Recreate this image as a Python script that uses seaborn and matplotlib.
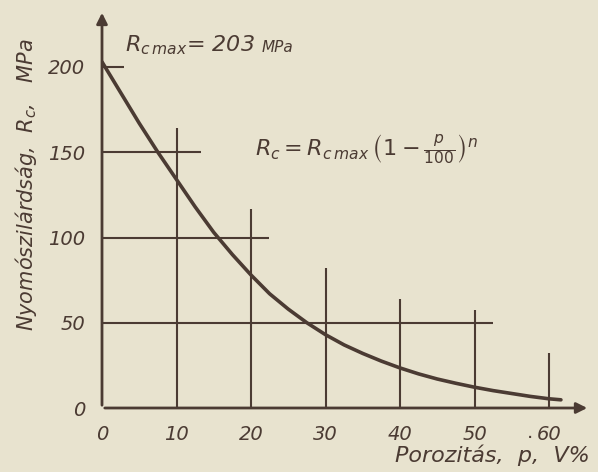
import numpy as np
import pandas as pd
import matplotlib
matplotlib.use("Agg")
import matplotlib.pyplot as plt
import seaborn as sns

# ---- data ----
porosity = [0, 2.5, 5, 7.5, 10, 12.5, 15, 17.5, 20, 22.5, 25, 27.5, 30, 32.5, 35,
            37.5, 40, 42.5, 45, 47.5, 50, 52.5, 55, 57.5, 60, 61.6]
strength = [203, 185, 167, 150, 134, 118, 103, 90, 78, 67, 58, 50, 43, 37, 32,
            27.5, 23.5, 20, 17, 14.5, 12.2, 10.2, 8.5, 6.8, 5.4, 4.8]
x_ticks = [0, 10, 20, 30, 40, 50, 60]
y_ticks = [0, 50, 100, 150, 200]
# hand-drawn partial grid lines: (position, extent)
vgrid_x = [10, 20, 30, 40, 50, 60]
vgrid_top = [164, 117, 82, 64, 57.5, 32]
hgrid_y = [50, 100, 150, 200]
hgrid_right = [52.5, 22.4, 13.3, 3]

PAPER = "#e8e3cf"
INK = "#4b3b33"

sns.set_theme(style="white")
plt.rcParams["font.family"] = ["DejaVu Sans"]
plt.rcParams["mathtext.fontset"] = "dejavusans"

fig = plt.figure(figsize=(5.98, 4.72), dpi=100, facecolor=PAPER)
ax = fig.add_axes([102/598, (472-408)/472, (590-102)/598, 398/472])
ax.set_facecolor(PAPER)
ax.set_xlim(0, (590-102)/7.45)
ax.set_ylim(0, 398/1.705)

df = pd.DataFrame({"p": porosity, "Rc": strength})

# grid segments
ax.vlines(vgrid_x, 0, vgrid_top, colors=INK, lw=1.5, zorder=1)
ax.hlines(hgrid_y, 0, hgrid_right, colors=INK, lw=1.5, zorder=1)

sns.lineplot(data=df, x="p", y="Rc", ax=ax, color=INK, lw=2.6, zorder=3)

for s in ax.spines.values():
    s.set_visible(False)
xmax = ax.get_xlim()[1]
ymax = ax.get_ylim()[1]
ax.annotate("", xy=(xmax, 0), xytext=(0, 0), annotation_clip=False,
            arrowprops=dict(arrowstyle="-|>", color=INK, lw=2.0, mutation_scale=16))
ax.annotate("", xy=(0, ymax), xytext=(0, 0), annotation_clip=False,
            arrowprops=dict(arrowstyle="-|>", color=INK, lw=2.0, mutation_scale=16))

ax.set_xticks(x_ticks)
ax.set_yticks(y_ticks)
ax.set_xticklabels([str(t) for t in x_ticks], fontsize=14, style="italic", color=INK)
ax.set_yticklabels([str(t) for t in y_ticks], fontsize=14, style="italic", color=INK)
ax.tick_params(axis="both", length=0, pad=12)
ax.set_xlabel("")
ax.set_ylabel("")

fig.text(590/598, 1-455/472, "Porozitás,  p,  V%", ha="right", va="center",
         fontsize=16, style="italic", color=INK)
fig.text(26/598, 1-185/472, r"Nyomószilárdság,  $\mathit{R_c}$,   MPa", rotation=90,
         ha="center", va="center", fontsize=15, style="italic", color=INK)
fig.text(125/598, 1-45/472, r"$\mathit{R_{c\,max}}$= 203", ha="left", va="center",
         fontsize=16, style="italic", color=INK)
fig.text(262/598, 1-47/472, "MPa", ha="left", va="center",
         fontsize=11, style="italic", color=INK)
fig.text(255/598, 1-150/472,
         r"$\mathit{R_c}=\mathit{R_{c\,max}}\,\left(1-\frac{\mathit{p}}{100}\right)^{\mathit{n}}$",
         ha="left", va="center", fontsize=16, color=INK)
fig.text(530/598, 1-432/472, ".", ha="center", va="center", fontsize=14, color=INK)

fig.savefig("out.png", dpi=100, facecolor=PAPER)
